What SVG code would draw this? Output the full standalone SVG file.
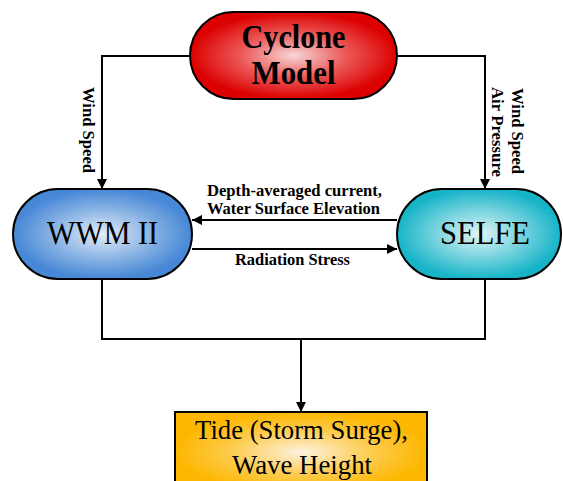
<svg xmlns="http://www.w3.org/2000/svg" width="563" height="481" viewBox="0 0 563 481">
<defs>
<radialGradient id="gRed" cx="50%" cy="50%" r="50%"><stop offset="0" stop-color="#f6d6d6"/><stop offset="0.5" stop-color="#ec5a5a"/><stop offset="1" stop-color="#dc0000"/></radialGradient>
<radialGradient id="gBlue" cx="50%" cy="50%" r="50%"><stop offset="0" stop-color="#e2ecf8"/><stop offset="0.55" stop-color="#8ab4e4"/><stop offset="1" stop-color="#4687d6"/></radialGradient>
<radialGradient id="gCyan" cx="50%" cy="50%" r="50%"><stop offset="0" stop-color="#e0f4f6"/><stop offset="0.55" stop-color="#74d2dd"/><stop offset="1" stop-color="#17b4c8"/></radialGradient>
<radialGradient id="gOrange" cx="50%" cy="50%" r="50%"><stop offset="0" stop-color="#fdf2e0"/><stop offset="0.55" stop-color="#fdcc50"/><stop offset="1" stop-color="#fdb700"/></radialGradient>
<marker id="arr" viewBox="0 0 10 10" refX="10" refY="5" markerWidth="5" markerHeight="5" orient="auto" markerUnits="strokeWidth"><path d="M0,0 L10,5 L0,10 z" fill="#000"/></marker>
</defs>
<style>
.shape{stroke:#000;stroke-width:2}
.line{fill:none;stroke:#000;stroke-width:2}
text{font-family:'Liberation Serif','Times New Roman',Times,serif;fill:#000;text-anchor:middle}
.big{font-size:33px}
.bigb{font-size:33px;font-weight:bold}
.lbl{font-size:16.5px;font-weight:bold}
.out{font-size:27px}
</style>
<g id="connectors">
<path class="line" d="M190,56 H102 V189" marker-end="url(#arr)"/>
<path class="line" d="M397,56 H485 V189" marker-end="url(#arr)"/>
<path class="line" d="M397,220 H192" marker-end="url(#arr)"/>
<path class="line" d="M192,249 H397" marker-end="url(#arr)"/>
<path class="line" d="M102,279 V339 H485 V279"/>
<path class="line" d="M301,339 V412" marker-end="url(#arr)"/>
<text class="lbl" transform="translate(83,130) rotate(90)" textLength="86" lengthAdjust="spacingAndGlyphs">Wind Speed</text>
<text class="lbl" transform="translate(512,131) rotate(90)" textLength="86" lengthAdjust="spacingAndGlyphs">Wind Speed</text>
<text class="lbl" transform="translate(492,132) rotate(90)" textLength="90" lengthAdjust="spacingAndGlyphs">Air Pressure</text>
<text class="lbl" x="294.5" y="196" textLength="175" lengthAdjust="spacingAndGlyphs">Depth-averaged current,</text>
<text class="lbl" x="293.5" y="214" textLength="173" lengthAdjust="spacingAndGlyphs">Water Surface Elevation</text>
<text class="lbl" x="292.5" y="265" textLength="115" lengthAdjust="spacingAndGlyphs">Radiation Stress</text>
</g>
<g id="cyclone">
<rect class="shape" x="190" y="12" width="207" height="87" rx="43.5" fill="url(#gRed)"/>
<text class="bigb" x="293.5" y="48" textLength="104" lengthAdjust="spacingAndGlyphs">Cyclone</text>
<text class="bigb" x="293.5" y="84" textLength="84" lengthAdjust="spacingAndGlyphs">Model</text>
</g>
<g id="wwm">
<rect class="shape" x="13" y="189" width="179" height="90" rx="45" fill="url(#gBlue)"/>
<text class="big" x="102.5" y="244" textLength="111" lengthAdjust="spacingAndGlyphs">WWM II</text>
</g>
<g id="selfe">
<rect class="shape" x="397" y="189" width="164" height="90" rx="45" fill="url(#gCyan)"/>
<text class="big" x="485" y="244" textLength="90" lengthAdjust="spacingAndGlyphs">SELFE</text>
</g>
<g id="output">
<rect class="shape" x="175" y="412" width="252" height="80" fill="url(#gOrange)"/>
<text class="out" x="301.5" y="439" textLength="213" lengthAdjust="spacingAndGlyphs">Tide (Storm Surge),</text>
<text class="out" x="302" y="474" textLength="140" lengthAdjust="spacingAndGlyphs">Wave Height</text>
</g>
</svg>
